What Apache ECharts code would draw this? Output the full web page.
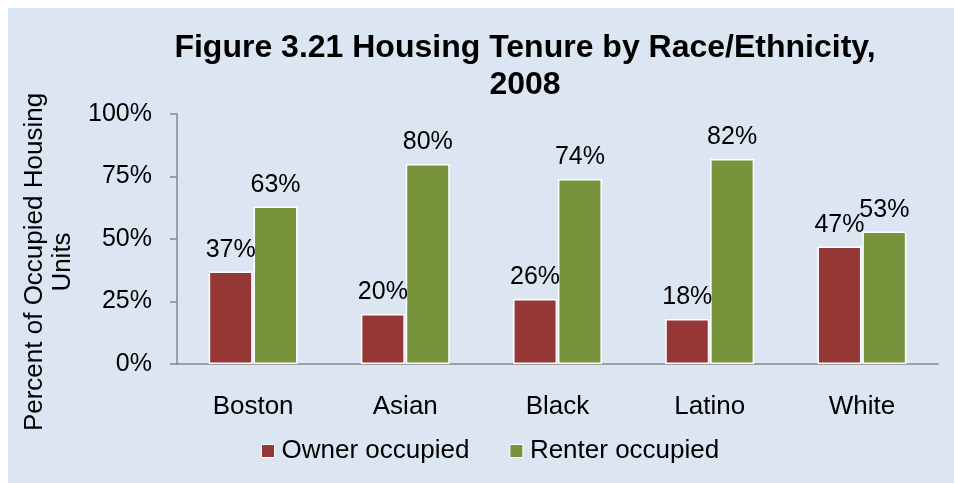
<!DOCTYPE html>
<html>
<head>
<meta charset="utf-8">
<script src="https://cdn.jsdelivr.net/npm/echarts@6/dist/echarts.min.js"></script>
<style>
  html, body { margin: 0; padding: 0; background: #ffffff; }
  #chart { position: absolute; left: 8px; top: 8px; width: 946px; height: 475px; background: #dce6f2; }
</style>
</head>
<body>
<div id="chart"></div>
<script>
const categories = ['Boston', 'Asian', 'Black', 'Latino', 'White'];
const ownerOccupied = [37, 20, 26, 18, 47];
const renterOccupied = [63, 80, 74, 82, 53];
const seriesNames = ['Owner occupied', 'Renter occupied'];
const colors = ['#953735', '#77933c'];

const font = 'Liberation Sans, Arial, sans-serif';

const myChart = echarts.init(document.getElementById('chart'));

const barLabel = {
  show: true,
  position: 'top',
  distance: 9,
  color: '#000',
  fontFamily: font,
  fontSize: 25,
  formatter: p => p.value + '%'
};

const option = {
  animation: false,
  color: colors,
  title: {
    text: 'Figure 3.21 Housing Tenure by Race/Ethnicity,\n2008',
    left: 512,
    top: 17,
    textAlign: 'center',
    textStyle: { fontFamily: font, fontSize: 32, fontWeight: 'bold', color: '#000', lineHeight: 37 }
  },
  legend: {
    data: seriesNames,
    left: 248,
    top: 425,
    icon: 'rect',
    itemWidth: 13,
    itemHeight: 13,
    itemGap: 40,
    itemStyle: { borderColor: '#fff', borderWidth: 1 },
    textStyle: { fontFamily: font, fontSize: 26, color: '#000', padding: [0, 0, 0, 2] }
  },
  grid: { left: 169, right: 16, top: 106, bottom: 119, containLabel: false },
  xAxis: {
    type: 'category',
    data: categories,
    axisLine: { lineStyle: { color: '#868686', width: 1.5 } },
    axisTick: { show: false },
    axisLabel: { color: '#000', fontFamily: font, fontSize: 26, margin: 30 }
  },
  yAxis: {
    type: 'value',
    min: 0,
    max: 100,
    interval: 25,
    name: 'Percent of Occupied Housing\nUnits',
    nameLocation: 'middle',
    nameRotate: 90,
    nameGap: 100,
    nameTextStyle: { fontFamily: font, fontSize: 26, color: '#000', lineHeight: 28, padding: [0, 46, 0, 0] },
    axisLine: { show: true, lineStyle: { color: '#868686', width: 1.5 } },
    axisTick: { show: true, length: 7, lineStyle: { color: '#868686', width: 1.5 } },
    splitLine: { show: false },
    axisLabel: { color: '#000', fontFamily: font, fontSize: 25, margin: 25, formatter: v => v + '%' }
  },
  series: [
    {
      name: seriesNames[0],
      type: 'bar',
      data: ownerOccupied,
      barWidth: 44,
      barGap: '2%',
      itemStyle: { borderColor: '#fff', borderWidth: 1.5 },
      label: barLabel
    },
    {
      name: seriesNames[1],
      type: 'bar',
      data: renterOccupied,
      barWidth: 44,
      itemStyle: { borderColor: '#fff', borderWidth: 1.5 },
      label: barLabel
    }
  ]
};

myChart.setOption(option);
</script>
</body>
</html>
